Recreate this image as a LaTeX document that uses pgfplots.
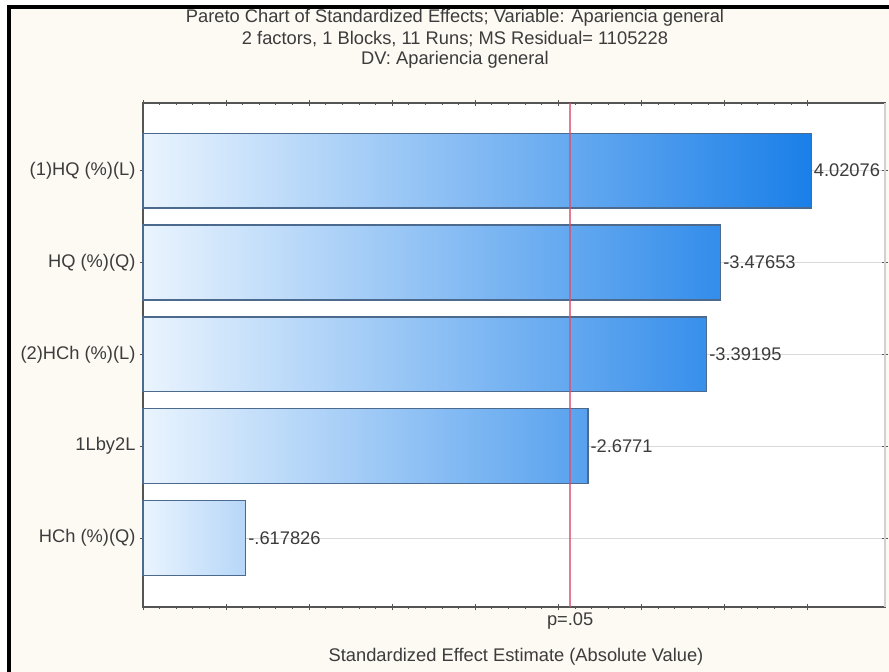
\documentclass[border=0pt]{standalone}
\usepackage{pgfplots}
\pgfplotsset{compat=1.18}
\usepackage{fontspec}
\setmainfont{Liberation Sans}
\definecolor{bg}{HTML}{FDF9F3}
\definecolor{tc}{HTML}{3C3C3C}
\definecolor{barL}{HTML}{EAF4FE}
\definecolor{barR}{HTML}{1A7FE8}
\definecolor{edge}{HTML}{4B6A8E}
\definecolor{refline}{HTML}{D9506F}
\definecolor{axc}{HTML}{555555}
\colorlet{cA}{barR}
\colorlet{cB}{barR!88!barL}
\colorlet{cC}{barR!86!barL}
\colorlet{cD}{barR!71!barL}
\colorlet{cE}{barR!25!barL}
\newcommand{\fs}{\fontsize{18.3}{21}\selectfont}
\begin{document}
\begin{tikzpicture}
\fill[white] (0pt,0pt) rectangle (889pt,-672pt);
\fill[bg] (9pt,-7pt) rectangle (889pt,-672pt);
\fill[black] (7pt,-5pt) rectangle (11pt,-672pt);
\fill[black] (7pt,-5pt) rectangle (889pt,-8.5pt);
\useasboundingbox (0pt,0pt) rectangle (889pt,-672pt);
\node[font=\fs, text=tc] at (455pt,-18pt) {Pareto Chart of Standardized Effects; Variable: Apariencia general};
\node[font=\fs, text=tc] at (455pt,-39pt) {2 factors, 1 Blocks, 11 Runs; MS Residual= 1105228};
\node[font=\fs, text=tc] at (455pt,-60pt) {DV: Apariencia general};
\node[font=\fs, text=tc] at (516pt,-657pt) {Standardized Effect Estimate (Absolute Value)};
\begin{axis}[
  at={(143pt,-607pt)}, anchor=south west,
  scale only axis, width=742pt, height=504pt,
  xmin=0, xmax=4.465, ymin=0.264, ymax=5.75,
  y dir=reverse,
  axis background/.style={fill=white},
  axis line style={draw=axc, line width=1.3pt},
  xtick={0,0.5,1,1.5,2,2.5,3,3.5,4},
  xticklabels={},
  minor x tick num=4,
  ytick={1,2,3,4,5},
  yticklabels={(1)HQ (\%)(L), HQ (\%)(Q), (2)HCh (\%)(L), 1Lby2L, HCh (\%)(Q)},
  tick style={draw=axc, line width=1pt},
  major tick length=6pt, minor tick length=3pt,
  tick align=center,
  tick label style={font=\fs, text=tc},
  yticklabel style={xshift=-1pt},
  ymajorgrids, grid style={draw=black!15, line width=1pt},
  extra x ticks={2.5706}, extra x tick labels={p=.05},
  extra x tick style={major tick length=0pt, grid=none,
     tick label style={font=\fs, text=tc, yshift=-2pt}},
  every node near coord/.append style={anchor=west, font=\fs, text=tc, inner sep=2pt},
  clip=false,
]
\addplot[xbar, bar width=0.815, bar shift=0pt, draw=edge, line width=1.3pt, left color=barL, right color=cA,
  nodes near coords, point meta=explicit symbolic] coordinates {(4.02076,1) [4.02076]};
\addplot[xbar, bar width=0.815, bar shift=0pt, draw=edge, line width=1.3pt, left color=barL, right color=cB,
  nodes near coords, point meta=explicit symbolic] coordinates {(3.47653,2) [-3.47653]};
\addplot[xbar, bar width=0.815, bar shift=0pt, draw=edge, line width=1.3pt, left color=barL, right color=cC,
  nodes near coords, point meta=explicit symbolic] coordinates {(3.39195,3) [-3.39195]};
\addplot[xbar, bar width=0.815, bar shift=0pt, draw=edge, line width=1.3pt, left color=barL, right color=cD,
  nodes near coords, point meta=explicit symbolic] coordinates {(2.6771,4) [-2.6771]};
\addplot[xbar, bar width=0.815, bar shift=0pt, draw=edge, line width=1.3pt, left color=barL, right color=cE,
  nodes near coords, point meta=explicit symbolic] coordinates {(0.617826,5) [-.617826]};
\addplot[color=refline, line width=1.6pt, opacity=0.75] coordinates {(2.5706,0.264) (2.5706,5.75)};
\draw[black!18, line width=1.4pt] (rel axis cs:1,0) -- (rel axis cs:1,1);
\end{axis}
\end{tikzpicture}
\end{document}
